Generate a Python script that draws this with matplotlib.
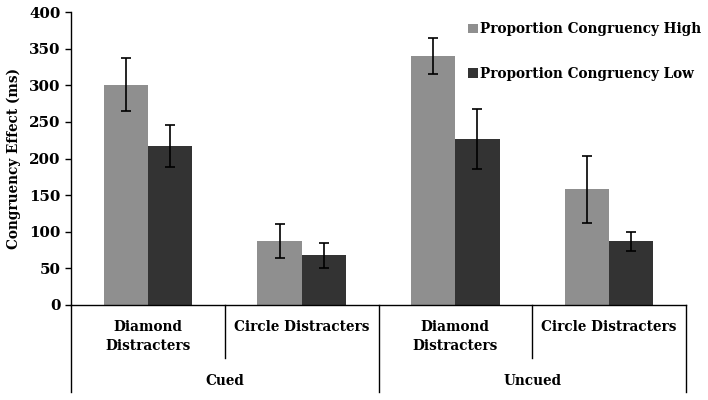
import matplotlib
matplotlib.use("Agg")
import matplotlib.pyplot as plt
import matplotlib.transforms as mtransforms
import numpy as np

groups = ["Cued", "Uncued"]
conditions = ["Diamond\nDistracters", "Circle Distracters",
              "Diamond\nDistracters", "Circle Distracters"]
series = ["Proportion Congruency High", "Proportion Congruency Low"]
high = [301, 87, 340, 158]
high_err = [36, 23, 24, 46]
low = [217, 68, 227, 87]
low_err = [29, 17, 41, 13]
yticks = [0, 50, 100, 150, 200, 250, 300, 350, 400]

plt.rcParams["font.family"] = ["DejaVu Serif"]
plt.rcParams["font.weight"] = "bold"
fs = 9.8

fig = plt.figure(figsize=(7.08, 4.0), dpi=100)
ax = fig.add_axes([71 / 708, 95 / 400, 615 / 708, 293 / 400])

x = np.arange(len(conditions))
w = 0.287
ekw = dict(elinewidth=1.2, capthick=1.2, ecolor="black")
ax.bar(x - w / 2, high, w, color="#8f8f8f", label=series[0],
       yerr=high_err, capsize=3.5, error_kw=ekw)
ax.bar(x + w / 2, low, w, color="#333333", label=series[1],
       yerr=low_err, capsize=3.5, error_kw=ekw)

ax.set_xlim(-0.5, len(conditions) - 0.5)
ax.set_ylim(0, 400)
ax.set_yticks(yticks)
ax.tick_params(axis="y", direction="out", length=4, width=1, labelsize=fs + 1)
ax.set_xticks([])
for s in ["top", "right"]:
    ax.spines[s].set_visible(False)
ax.spines["left"].set_linewidth(1)
ax.spines["bottom"].set_linewidth(1)
ax.set_ylabel("Congruency Effect (ms)", fontsize=fs, fontweight="bold", labelpad=6)

# two-level category axis
trans = mtransforms.blended_transform_factory(ax.transData, ax.transAxes)
for b in [-0.5, 1.5, 3.5]:
    ax.plot([b, b], [0, -0.297], color="black", lw=1, transform=trans, clip_on=False)
for b in [0.5, 2.5]:
    ax.plot([b, b], [0, -0.181], color="black", lw=1, transform=trans, clip_on=False)
for xi, lab in zip(x, conditions):
    ax.text(xi, -0.05, lab, transform=trans, ha="center", va="top",
            fontsize=fs, fontweight="bold", linespacing=1.45)
for gi, g in enumerate(groups):
    ax.text(gi * 2 + 0.5, -0.26, g, transform=trans, ha="center", va="center",
            fontsize=fs, fontweight="bold")

ax.legend(loc="upper left", bbox_to_anchor=(0.6455, 0.965), frameon=False,
          handlelength=0.7, handleheight=0.7, handletextpad=0.2,
          labelspacing=2.25, fontsize=fs, borderaxespad=0, borderpad=0)

fig.savefig("out.png", dpi=100)
